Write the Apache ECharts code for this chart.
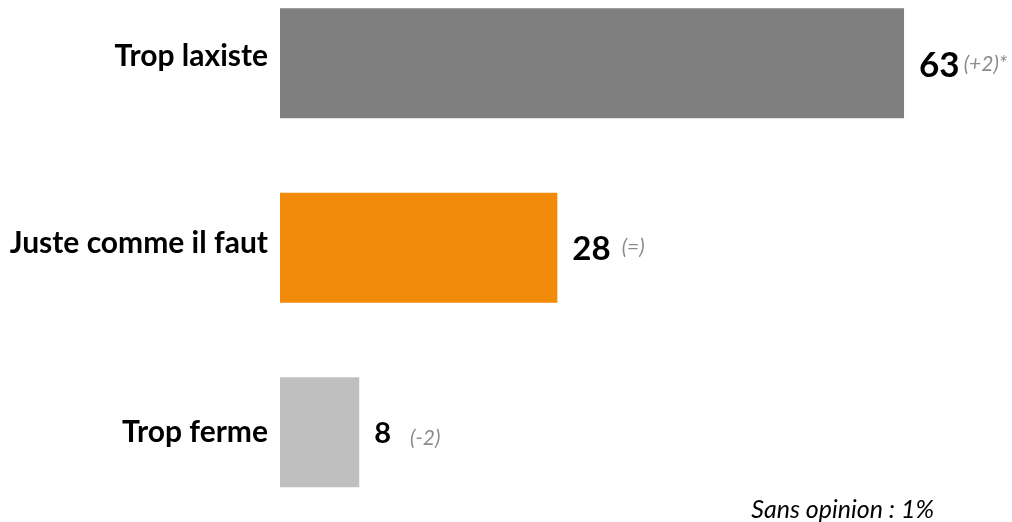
<!DOCTYPE html>
<html><head><meta charset="utf-8">
<script src="https://cdn.jsdelivr.net/npm/echarts@6/dist/echarts.min.js"></script>
<style>html,body{margin:0;padding:0;background:#fff}#c{width:1012px;height:522px}</style>
</head><body><div id="c"></div>
<script>
const categories = ['Trop laxiste', 'Juste comme il faut', 'Trop ferme'];
const values = [63, 28, 8];
const changes = ['(+2)*', '(=)', '(-2)'];
const colors = ['#7f7f7f', '#f28a0a', '#bfbfbf'];
const footnote = 'Sans opinion : 1%';

// per-row label styling (layout only)
const catShift = [14, 9, 0];
const valSize = [35, 33, 29];
const gapW = [4, 11, 19];
const chgPad = [[0, 0, 2, 0], [0, 0, 6, 0], [10, 0, 0, 0]];
const valOffset = [[0, 2], [0, 2], [0, 1]];

const catRich = {};
categories.forEach((c, i) => {
  catRich['k' + i] = { fontFamily: 'Lato', fontWeight: 'bold', fontSize: 30, color: '#000', padding: [0, 0, catShift[i], 0] };
});
const valRich = {};
values.forEach((v, i) => {
  valRich['v' + i] = { fontFamily: 'Lato', fontWeight: 'bold', fontSize: valSize[i], color: '#000' };
  valRich['s' + i] = { width: gapW[i] };
  valRich['c' + i] = { fontFamily: 'Lato', fontStyle: 'italic', fontSize: 21, color: '#8c8c8c', padding: chgPad[i] };
});

const chart = echarts.init(document.getElementById('c'));
chart.setOption({
  animation: false,
  grid: { left: 280, right: 0, top: -29, height: 553.5, containLabel: false, outerBoundsMode: 'none' },
  xAxis: { type: 'value', min: 0, max: 73.9, show: false },
  yAxis: {
    type: 'category', data: categories, inverse: true,
    axisLine: { show: false }, axisTick: { show: false },
    axisLabel: {
      margin: 12,
      formatter: (val, idx) => '{k' + idx + '|' + val + '}',
      rich: catRich
    }
  },
  series: [{
    type: 'bar', barWidth: 110,
    data: values.map((v, i) => ({ value: v, itemStyle: { color: colors[i] }, label: { offset: valOffset[i] } })),
    label: {
      show: true, position: 'right', distance: 15,
      formatter: p => '{v' + p.dataIndex + '|' + p.value + '}{s' + p.dataIndex + '|}{c' + p.dataIndex + '|' + changes[p.dataIndex] + '}',
      rich: valRich
    }
  }],
  graphic: [{
    type: 'text', right: 78, bottom: 0,
    style: { text: footnote, fontFamily: 'Lato', fontStyle: 'italic', fontSize: 25, fill: '#000' }
  }]
});
</script></body></html>
